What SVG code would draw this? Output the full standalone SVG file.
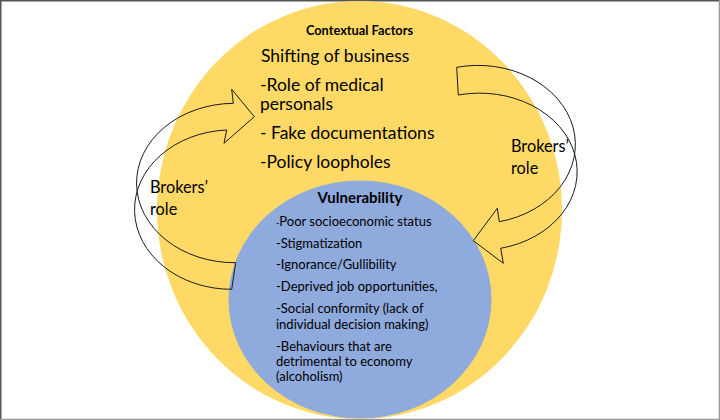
<svg xmlns="http://www.w3.org/2000/svg" width="720" height="420" viewBox="0 0 720 420">
  <style>
    text { font-family: Lato, "Open Sans", "Liberation Sans", sans-serif; fill: #000; }
    .title { font-weight: bold; font-size: 12.8px; text-anchor: middle; }
    .ctx { font-size: 17.5px; }
    .vt { font-weight: bold; font-size: 15px; text-anchor: middle; }
    .v { font-size: 13px; }
    .brk { font-size: 16.3px; }
    .arrow { fill: none; stroke: #1a1a1a; stroke-width: 1; stroke-linejoin: miter; }
  </style>
  <rect x="0" y="0" width="720" height="420" fill="#ffffff"/>
  <line x1="0" y1="0.5" x2="720" y2="0.5" stroke="#555" stroke-width="2"/>
  <line x1="0.5" y1="0" x2="0.5" y2="420" stroke="#555" stroke-width="2"/>
  <line x1="719.5" y1="0" x2="719.5" y2="420" stroke="#999" stroke-width="1.5"/>
  <line x1="0" y1="419.5" x2="720" y2="419.5" stroke="#999" stroke-width="1.5"/>

  <g id="contextual-factors">
    <ellipse cx="359.5" cy="210" rx="202.5" ry="209" fill="#FFD966"/>
    <text class="title" x="359.5" y="35">Contextual Factors</text>
    <text class="ctx" x="259.5" y="62"><tspan font-size="4">-</tspan>Shifting of business</text>
    <text class="ctx" x="260" y="91">-Role of medical</text>
    <text class="ctx" x="260" y="110">personals</text>
    <text class="ctx" x="260" y="139">- Fake documentations</text>
    <text class="ctx" x="260" y="168">-Policy loopholes</text>
  </g>

  <g id="vulnerability">
    <ellipse cx="360" cy="299.5" rx="131.5" ry="119" fill="#8FAADC"/>
    <text class="vt" x="360" y="203">Vulnerability</text>
    <text class="v" x="276" y="226"><tspan font-size="9">-</tspan>Poor socioeconomic status</text>
    <text class="v" x="276" y="247.5">-Stigmatization</text>
    <text class="v" x="276" y="269">-Ignorance/Gullibility</text>
    <text class="v" x="276" y="291">-Deprived job opportunities,</text>
    <text class="v" x="276" y="313">-Social conformity (lack of</text>
    <text class="v" x="276" y="329">individual decision making)</text>
    <text class="v" x="276" y="351">-Behaviours that are</text>
    <text class="v" x="276" y="366">detrimental to economy</text>
    <text class="v" x="276" y="381">(alcoholism)</text>
  </g>

  <g id="connectors">
    <g id="brokers-role-left">
      <path class="arrow" d="M 233.3,103.3 A 98 79.7 0 0 0 235.7,262.7 L 231.7,289.3 A 97 79.7 0 0 1 226.7,130 L 224,143.3 L 254.3,116.7 L 231.7,89.3 Z"/>
      <text class="brk" x="150" y="193">Brokers’</text>
      <text class="brk" x="150" y="215">role</text>
    </g>
    <g id="brokers-role-right">
      <path class="arrow" d="M 456.7,67.3 A 96 78 0 0 1 499.3,221.7 L 497.3,208.3 L 473.3,240.7 L 503.3,263.3 L 500.7,248.3 A 97 78 0 0 0 458.3,95 Z"/>
      <text class="brk" x="511" y="152">Brokers’</text>
      <text class="brk" x="511" y="174">role</text>
    </g>
  </g>
</svg>
